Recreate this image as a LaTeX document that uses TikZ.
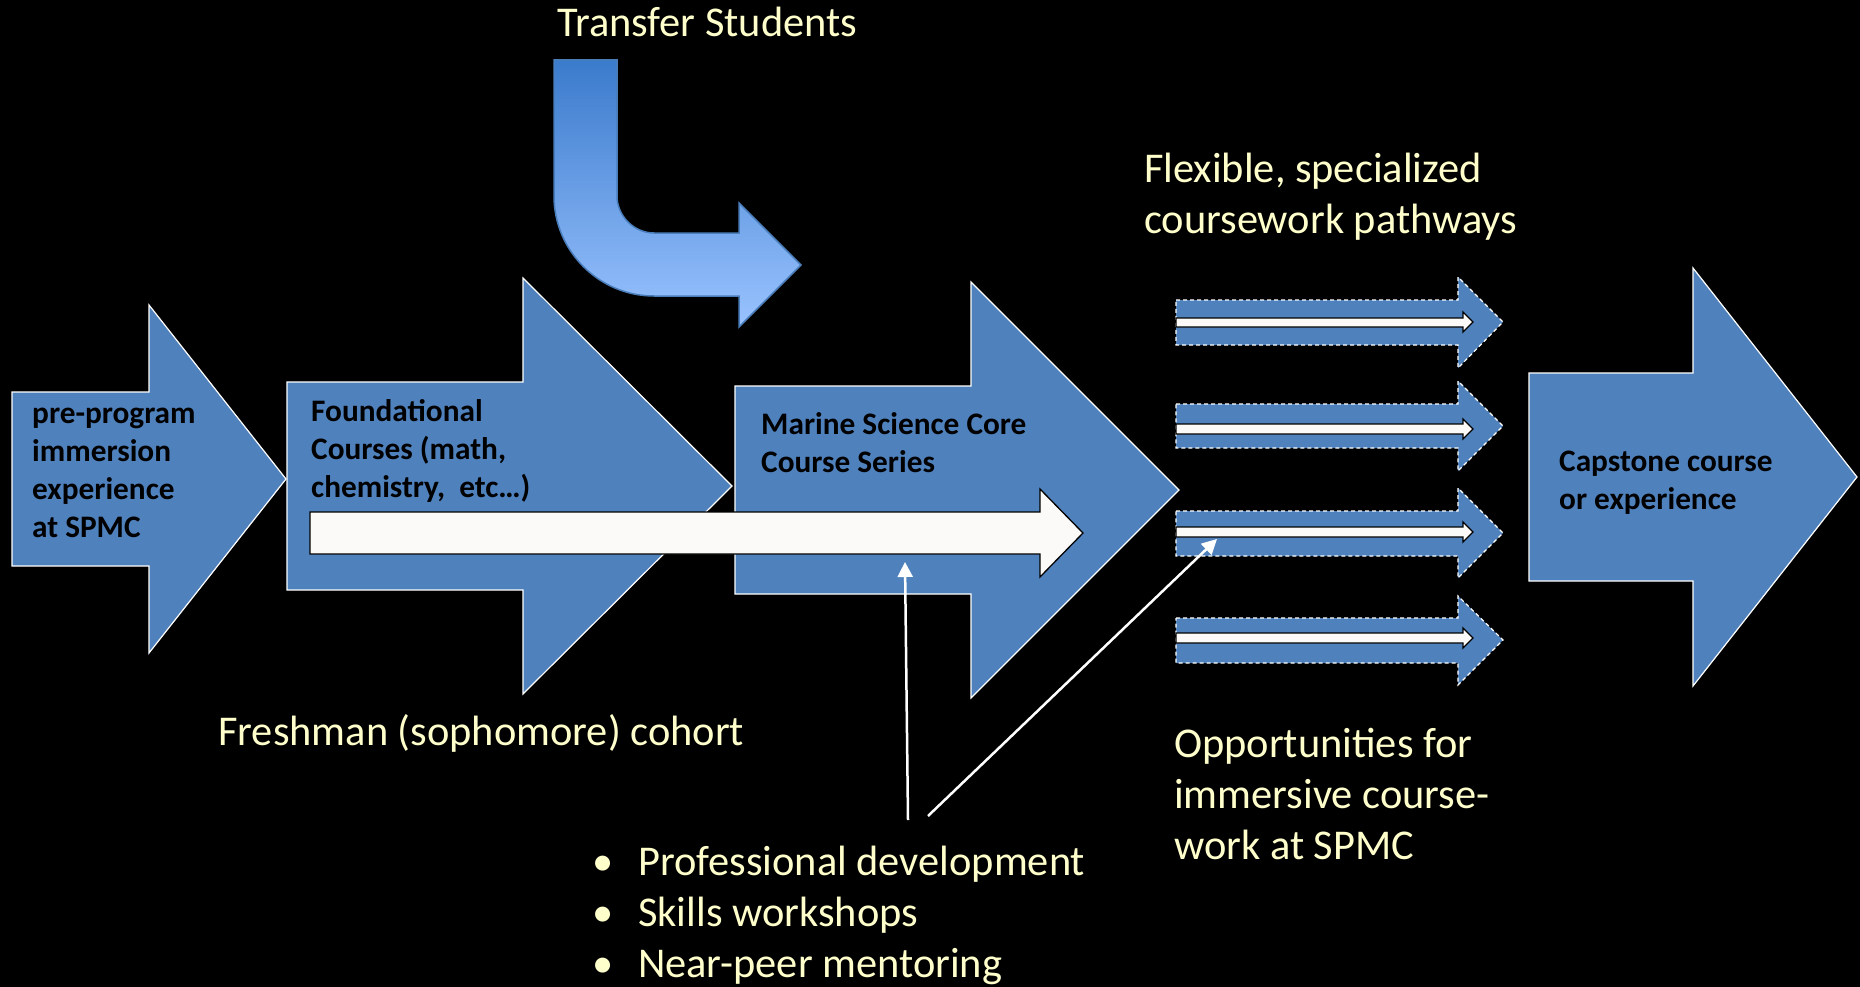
\documentclass[tikz,border=0pt]{standalone}
\usepackage{fontspec}
\setmainfont{Carlito}
\usetikzlibrary{arrows.meta}

\definecolor{arrowblue}{HTML}{4F81BD}
\definecolor{creamtext}{HTML}{FFFFCC}
\definecolor{transfertop}{HTML}{3B7BCC}
\definecolor{transferbottom}{HTML}{9AC3FF}
\definecolor{transferline}{HTML}{4A7EBB}
\definecolor{offwhite}{HTML}{FBFAF8}

\newcommand{\pbullet}{\makebox[46pt][l]{\textbullet}}

\begin{document}
\begin{tikzpicture}[x=1pt, y=-1pt,
  block arrow/.style={fill=arrowblue, draw=white, line width=1.2pt},
  path arrow/.style={fill=arrowblue, draw=white, line width=1.2pt, dash pattern=on 4pt off 3pt},
  inner arrow/.style={fill=offwhite, draw=black, line width=1.3pt},
  transfer arrow/.style={top color=transfertop, bottom color=transferbottom, draw=transferline, line width=1.5pt},
  cream text/.style={text=creamtext, font=\fontsize{42.4}{51}\selectfont, inner sep=0pt, anchor=base west},
  box text/.style={text=black, font=\bfseries\fontsize{31.3}{38.3}\selectfont, inner sep=0pt, anchor=base west},
  pointer/.style={draw=white, line width=2.5pt, -{Triangle[length=15pt, width=15pt]}}]

  \useasboundingbox (0,0) rectangle (1860,987);
  \fill[black] (0,0) rectangle (1860,987);

  % main sequence
  \draw[block arrow] (12,392) -- (149,392) -- (149,305) -- (286,479) -- (149,653) -- (149,566) -- (12,566) -- cycle;
  \draw[block arrow] (287,382) -- (523,382) -- (523,278) -- (732,486) -- (523,694) -- (523,590) -- (287,590) -- cycle;
  \draw[block arrow] (735,386) -- (971,386) -- (971,282) -- (1179,490) -- (971,698) -- (971,594) -- (735,594) -- cycle;
  \draw[inner arrow] (310,512) -- (1040,512) -- (1040,489) -- (1083,533) -- (1040,577) -- (1040,554) -- (310,554) -- cycle;
  \draw[block arrow] (1529,373) -- (1693,373) -- (1693,268) -- (1857,477) -- (1693,686) -- (1693,581) -- (1529,581) -- cycle;

  % transfer entry
  \draw[transfer arrow] (554,60) -- (554,196) .. controls (554,251) and (599,296) .. (654,296) -- (739,296) -- (739,327) -- (801,265) -- (739,203) -- (739,233) -- (654,233) .. controls (634,233) and (617,216) .. (617,196) -- (617,60) -- cycle;

  % pathways
  \draw[path arrow] (1176,300) -- (1458,300) -- (1458,277) -- (1503,322) -- (1458,368) -- (1458,345) -- (1176,345) -- cycle;
  \draw[inner arrow] (1176,318) -- (1463,318) -- (1463,312) -- (1473,322) -- (1463,332) -- (1463,327) -- (1176,327) -- cycle;
  \draw[path arrow] (1176,404) -- (1458,404) -- (1458,381) -- (1503,426) -- (1458,471) -- (1458,448) -- (1176,448) -- cycle;
  \draw[inner arrow] (1176,424) -- (1463,424) -- (1463,419) -- (1473,429) -- (1463,439) -- (1463,434) -- (1176,434) -- cycle;
  \draw[path arrow] (1176,511) -- (1458,511) -- (1458,488) -- (1503,533) -- (1458,578) -- (1458,556) -- (1176,556) -- cycle;
  \draw[inner arrow] (1176,527) -- (1463,527) -- (1463,522) -- (1473,532) -- (1463,542) -- (1463,537) -- (1176,537) -- cycle;
  \draw[path arrow] (1176,618) -- (1458,618) -- (1458,596) -- (1503,640) -- (1458,685) -- (1458,663) -- (1176,663) -- cycle;
  \draw[inner arrow] (1176,633) -- (1463,633) -- (1463,628) -- (1473,638) -- (1463,648) -- (1463,643) -- (1176,643) -- cycle;

  % labels
  \node[box text] (pre) at (32,423) {\begin{tabular}[t]{@{}l@{}}pre-program\\immersion\\experience\\at SPMC\end{tabular}};
  \node[box text] (found) at (311,421) {\begin{tabular}[t]{@{}l@{}}Foundational\\Courses (math,\\chemistry,\ \ etc\dots)\end{tabular}};
  \node[box text] (core) at (761,434) {\begin{tabular}[t]{@{}l@{}}Marine Science Core\\Course Series\end{tabular}};
  \node[box text] (cap) at (1559,471) {\begin{tabular}[t]{@{}l@{}}Capstone course\\or experience\end{tabular}};

  \node[cream text] (transfer) at (557,37) {Transfer Students};
  \node[cream text] (flex) at (1144,183) {\begin{tabular}[t]{@{}l@{}}Flexible, specialized\\coursework pathways\end{tabular}};
  \node[cream text] (cohort) at (218,745) {Freshman (sophomore) cohort};
  \node[cream text] (opp) at (1174,757) {\begin{tabular}[t]{@{}l@{}}Opportunities for\\immersive course-\\work at SPMC\end{tabular}};
  \node[cream text] (skills) at (592,875) {\begin{tabular}[t]{@{}l@{}}\pbullet Professional development\\\pbullet Skills workshops\\\pbullet Near-peer mentoring\end{tabular}};

  % pointers
  \coordinate (skillsA) at (908,820);
  \coordinate (skillsB) at (928,816);
  \coordinate (coreIn) at (905,562);
  \coordinate (pathIn) at (1217,539);
  \draw[pointer] (skillsA) -- (coreIn);
  \draw[pointer] (skillsB) -- (pathIn);
\end{tikzpicture}
\end{document}
